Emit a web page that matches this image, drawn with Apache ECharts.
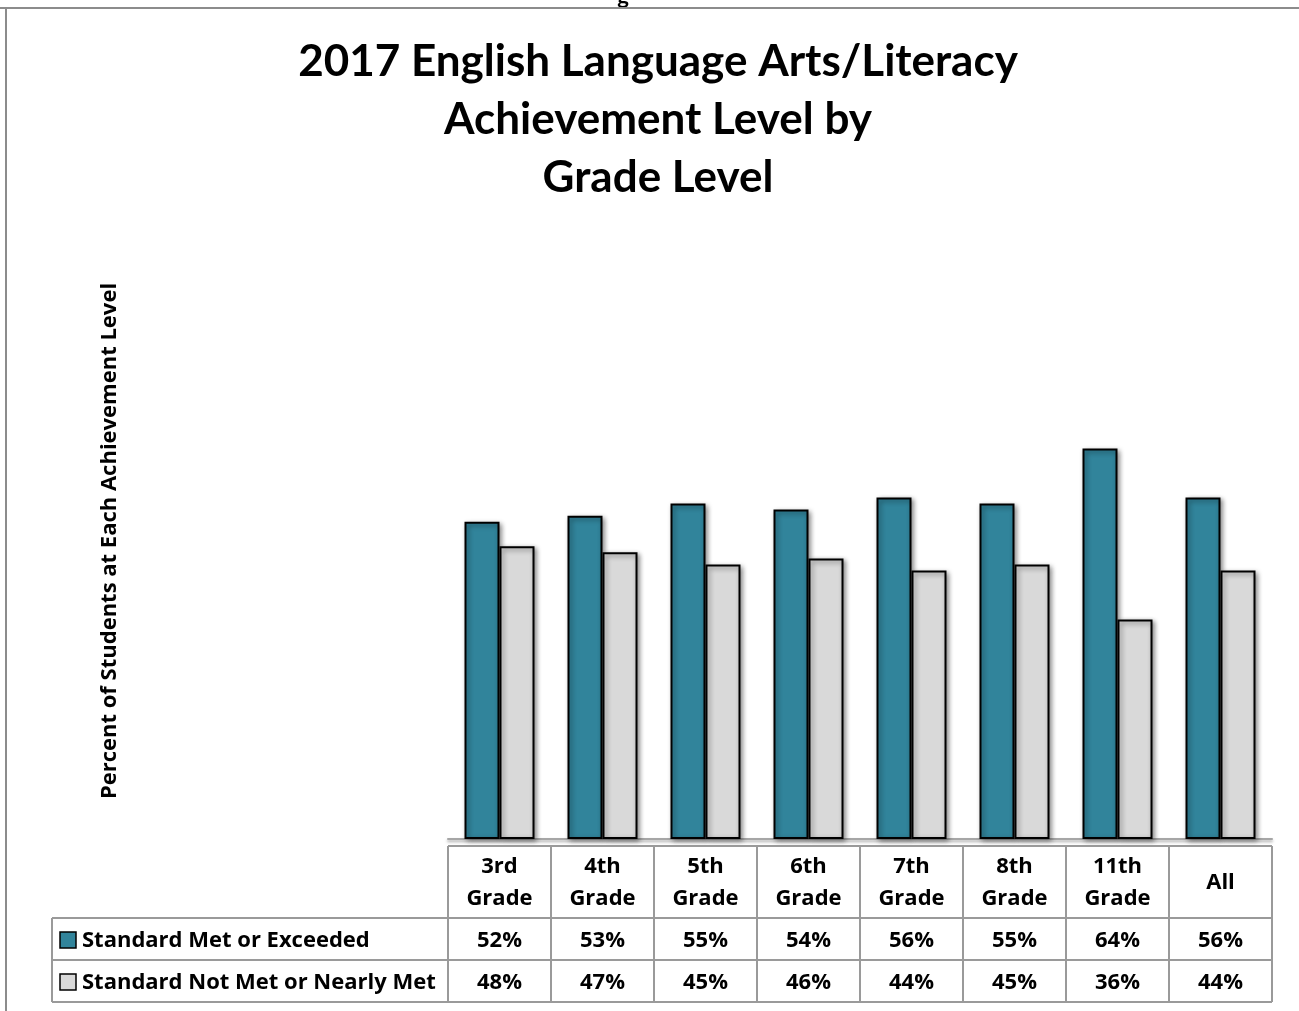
<!DOCTYPE html>
<html><head><meta charset="utf-8">
<script src="https://cdn.jsdelivr.net/npm/echarts@6/dist/echarts.min.js"></script>
<style>html,body{margin:0;padding:0;background:#fff}#c{width:1299px;height:1011px}</style>
</head><body><div id="c"></div>
<script>
var titleLines = ['2017 English Language Arts/Literacy', 'Achievement Level by', 'Grade Level'];
var yAxisTitle = 'Percent of Students at Each Achievement Level';
var categories = ['3rd Grade', '4th Grade', '5th Grade', '6th Grade', '7th Grade', '8th Grade', '11th Grade', 'All'];
var seriesNames = ['Standard Met or Exceeded', 'Standard Not Met or Nearly Met'];
var metValues = [52, 53, 55, 54, 56, 55, 64, 56];
var notMetValues = [48, 47, 45, 46, 44, 45, 36, 44];
var colors = ['#31849b', '#d9d9d9'];

var FONT = 'Lato';
var SFONT = 'Open Sans';
var chart = echarts.init(document.getElementById('c'));
var barStyle = function (c) {
  return { color: c, borderColor: '#000', borderWidth: 2,
    shadowBlur: 5, shadowColor: 'rgba(0,0,0,0.45)', shadowOffsetX: 2, shadowOffsetY: 2 };
};
chart.setOption({
  backgroundColor: '#fff',
  animation: false,
  title: {
    text: titleLines.join('\n'), left: 653, top: 28, textAlign: 'center',
    textStyle: { fontFamily: FONT, fontWeight: 'bold', fontSize: 44, lineHeight: 58, color: '#000' }
  },
  grid: { left: 448, right: 27, top: 229, bottom: 172 },
  xAxis: {
    type: 'category', data: categories,
    axisLine: { lineStyle: { color: '#a6a6a6', width: 2, shadowBlur: 3, shadowColor: 'rgba(0,0,0,0.35)', shadowOffsetY: 2 } },
    axisTick: { show: false }, axisLabel: { show: false }
  },
  yAxis: { type: 'value', min: 0, max: 100, show: false },
  series: [
    { type: 'bar', name: seriesNames[0], data: metValues, barWidth: 35, barGap: '0%', itemStyle: barStyle(colors[0]) },
    { type: 'bar', name: seriesNames[1], data: notMetValues, barWidth: 35, barGap: '0%', itemStyle: barStyle(colors[1]) }
  ]
});

var x0 = chart.convertToPixel({ xAxisIndex: 0 }, categories[0]);
var x1 = chart.convertToPixel({ xAxisIndex: 0 }, categories[1]);
var step = x1 - x0;
var tableLeft = x0 - step / 2;
var tableRight = tableLeft + step * categories.length;
var hTop = 846, hBot = 918, r1Bot = 960, r2Bot = 1002, labelLeft = 52;
var lineC = '#9a9a9a';
var g = [];
function line(xa, ya, xb, yb, c, w) {
  g.push({ type: 'line', shape: { x1: xa, y1: ya, x2: xb, y2: yb }, style: { stroke: c || lineC, lineWidth: w || 2 }, z: 10 });
}
function txt(t, x, y, size, align) {
  g.push({ type: 'text', x: x, y: y, z: 11, style: { text: t, fill: '#000', fontWeight: 'bold', fontSize: size, fontFamily: SFONT,
    align: align || 'center', verticalAlign: 'middle' } });
}
line(0, 8, 1299, 8, '#8c8c8c', 2);
line(6, 8, 6, 1011, '#8c8c8c', 2);
g.push({ type: 'text', x: 623, y: -14, style: { text: 'g', fill: '#000', fontWeight: 'bold', fontSize: 22, fontFamily: FONT, align: 'center' } });
g.push({ type: 'text', x: 110, y: 541, rotation: Math.PI / 2, z: 11,
  style: { text: yAxisTitle, fill: '#000', fontWeight: 'bold', fontSize: 22, fontFamily: SFONT, align: 'center', verticalAlign: 'middle' } });
line(tableLeft, hTop, tableRight, hTop);
line(labelLeft, hBot, tableRight, hBot);
line(labelLeft, r1Bot, tableRight, r1Bot);
line(labelLeft, r2Bot, tableRight, r2Bot);
line(labelLeft, hBot, labelLeft, r2Bot);
for (var i = 0; i <= categories.length; i++) {
  line(tableLeft + i * step, hTop, tableLeft + i * step, r2Bot);
}
categories.forEach(function (c, i) {
  var cx = chart.convertToPixel({ xAxisIndex: 0 }, c);
  var parts = c.split(' ');
  if (parts.length > 1) { txt(parts[0], cx, 867, 22); txt(parts.slice(1).join(' '), cx, 899, 22); }
  else { txt(c, cx, 883, 22); }
  txt(metValues[i] + '%', cx, 941, 22);
  txt(notMetValues[i] + '%', cx, 983, 22);
});
[940, 982].forEach(function (y, k) {
  g.push({ type: 'rect', shape: { x: 60, y: y - 8, width: 16, height: 16 }, z: 11,
    style: { fill: colors[k], stroke: '#000', lineWidth: 1.5 } });
  txt(seriesNames[k], 82, y + 1, 22, 'left');
});
chart.setOption({ graphic: { elements: g } });
</script></body></html>
